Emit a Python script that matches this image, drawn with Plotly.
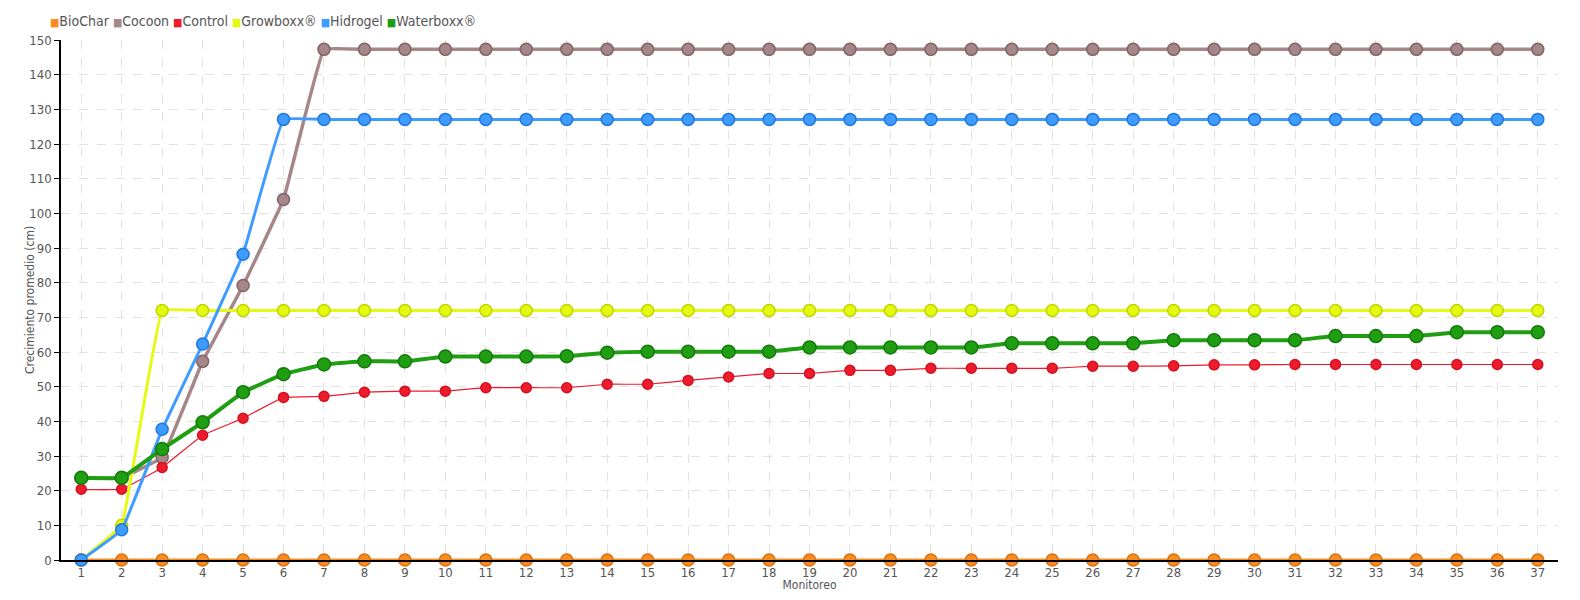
import plotly.graph_objects as go

monitoreo = list(range(1, 38))

biochar = [0] * 37
cocoon = [23.7, 23.7, 29.6, 57.3, 79.2, 104.0] + [147.3] * 31
control = [20.4, 20.4, 26.7, 36.0, 40.9, 46.9, 47.2, 48.4, 48.7, 48.7,
           49.7, 49.7, 49.7, 50.7, 50.7, 51.8, 52.8, 53.8, 53.8, 54.7,
           54.7, 55.3, 55.3, 55.3, 55.3, 55.9, 55.9, 56.0, 56.3, 56.3,
           56.4, 56.4, 56.4, 56.4, 56.4, 56.4, 56.4]
growboxx = [0, 10.0] + [72.0] * 35
hidrogel = [0, 8.7, 37.7, 62.3, 88.2] + [127.1] * 32
waterboxx = [23.7, 23.7, 32.0, 39.7, 48.4, 53.6, 56.4, 57.3, 57.3, 58.7,
             58.7, 58.7, 58.8, 59.8, 60.1, 60.1, 60.1, 60.1, 61.3, 61.3,
             61.3, 61.3, 61.3, 62.5, 62.5, 62.5, 62.5, 63.4, 63.4, 63.4,
             63.4, 64.6, 64.6, 64.6, 65.7, 65.7, 65.7]

series = [
    ("BioChar", biochar, "#FB8C22", "#D8700E", 3, 12),
    ("Cocoon", cocoon, "#A58789", "#806466", 3.5, 12),
    ("Control", control, "#EC1C2C", "#D41020", 1.2, 10),
    ("Growboxx®", growboxx, "#E4FA10", "#C2D400", 3, 12),
    ("Hidrogel", hidrogel, "#3E9BFF", "#2378D8", 3, 12),
    ("Waterboxx®", waterboxx, "#1F9E12", "#137A0A", 4, 13),
]

font_fam = "DejaVu Sans Condensed, Liberation Sans Narrow, Open Sans, sans-serif"
txt_col = "#555555"

fig = go.Figure()
for name, vals, col, edge, lw, ms in series:
    fig.add_trace(go.Scatter(
        x=monitoreo, y=vals, name=name, mode="lines+markers",
        line=dict(color=col, width=lw, shape="spline", smoothing=0.2),
        marker=dict(color=col, size=ms, line=dict(color=edge, width=1.5)),
        cliponaxis=False, showlegend=False,
    ))

# compact legend drawn as text with coloured squares
legend_text = " ".join(
    f"<span style='color:{col}; font-size:11px'>■</span>{name}"
    for name, vals, col, edge, lw, ms in series
)
fig.add_annotation(
    text=legend_text, xref="paper", yref="paper", x=-0.009, y=1.0,
    xanchor="left", yanchor="bottom", yshift=9, showarrow=False,
    font=dict(family=font_fam, size=14, color=txt_col),
)

# y-axis title placed close to the tick labels as in the reference
fig.add_annotation(
    text="Crecimiento promedio (cm)", xref="paper", yref="paper",
    x=0, y=0.5, xanchor="center", yanchor="middle", xshift=-31,
    textangle=-90, showarrow=False,
    font=dict(family=font_fam, size=12, color=txt_col),
)

# page body has an 8px margin: size the figure so the plot area lands where the reference has it
fig.update_layout(
    width=1564, height=584,
    margin=dict(l=53, r=14, t=32, b=32, autoexpand=False),
    paper_bgcolor="white", plot_bgcolor="white",
    font=dict(family=font_fam, size=14, color=txt_col),
    showlegend=False,
    xaxis=dict(
        range=[0.5, 37.5], tickmode="array", tickvals=monitoreo,
        ticktext=[str(v) for v in monitoreo],
        showgrid=True, gridcolor="#E2E2E2", griddash="dash", gridwidth=1,
        zeroline=False, showline=True, linecolor="black", linewidth=1.5,
        ticks="", tickfont=dict(size=13, color=txt_col),
        title=dict(text="Monitoreo", standoff=3, font=dict(size=12, color=txt_col)),
    ),
    yaxis=dict(
        range=[0, 150], tickmode="linear", tick0=0, dtick=10,
        showgrid=True, gridcolor="#E2E2E2", griddash="dash", gridwidth=1,
        zeroline=False, showline=True, linecolor="black", linewidth=1.5,
        ticks="outside", ticklen=5, tickcolor="black",
        tickfont=dict(size=13, color=txt_col),
    ),
)

fig.write_html("out.html")
